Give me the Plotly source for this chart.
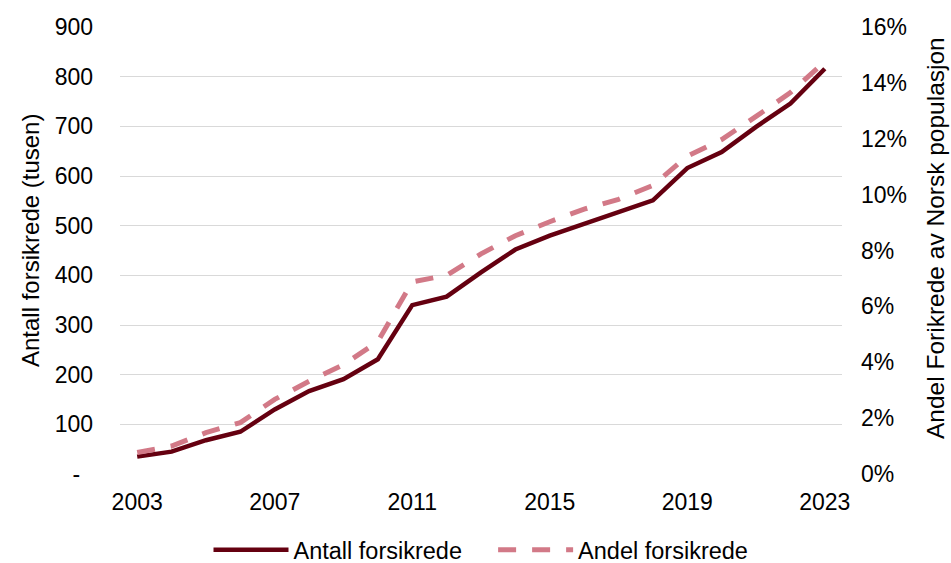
import plotly.graph_objects as go

years = list(range(2003, 2024))
antall = [35, 45, 68, 85, 130, 167, 191, 231, 340, 357, 406, 452, 480, 503, 527, 551, 616, 648, 699, 746, 816]
andel = [0.77, 1.0, 1.48, 1.84, 2.67, 3.32, 3.91, 4.74, 6.88, 7.11, 7.88, 8.53, 9.03, 9.48, 9.83, 10.33, 11.38, 11.97, 12.8, 13.65, 14.76]
andel_frac = [v / 100 for v in andel]

left_ticks = [0, 100, 200, 300, 400, 500, 600, 700, 800, 900]
left_text = ["-\u00a0\u00a0", "100", "200", "300", "400", "500", "600", "700", "800", "900"]
x_ticks = [2003, 2007, 2011, 2015, 2019, 2023]

left_title = "Antall forsikrede (tusen)"
right_title = "Andel Forikrede av Norsk populasjon"
series_names = ["Antall forsikrede", "Andel forsikrede"]

dark = "#650010"
pink = "#d27987"
font = "Liberation Sans, Arial, sans-serif"

W, H = 951, 563
ML, MR, MT, MB = 120, 109, 27, 89

fig = go.Figure()
fig.add_trace(go.Scatter(x=years, y=antall, mode="lines", name=series_names[0] + "\u00a0" * 4,
                         line=dict(color=dark, width=4.5), yaxis="y"))
fig.add_trace(go.Scatter(x=years, y=andel_frac, mode="lines", name=series_names[1],
                         line=dict(color=pink, width=5, dash="18px,16px"), yaxis="y2"))

ph = H - MT - MB
pw = W - ML - MR

def py(ypix):
    return (H - MB - ypix) / ph

def px(xpix):
    return (xpix - ML) / pw

fig.update_layout(
    width=W, height=H,
    margin=dict(l=ML, r=MR, t=MT, b=MB),
    paper_bgcolor="white", plot_bgcolor="white",
    font=dict(family=font, size=23, color="#000000"),
    xaxis=dict(range=[2002.5, 2023.5], tickvals=x_ticks, showgrid=False, zeroline=False,
               showline=False, ticks="", ticklabelstandoff=12, automargin=False),
    yaxis=dict(range=[0, 900], tickvals=left_ticks, ticktext=left_text,
               showgrid=True, gridcolor="#d9d9d9", gridwidth=1.3, zeroline=False,
               showline=False, ticks="", ticklabelstandoff=26, automargin=False),
    yaxis2=dict(range=[0, 0.16], dtick=0.02, tickformat=".0%", overlaying="y", side="right",
                showgrid=False, zeroline=False, showline=False, ticks="", ticklabelstandoff=18,
                automargin=False),
    legend=dict(orientation="h", x=0.5, xanchor="center", xref="paper",
                y=1 - 550 / H, yanchor="middle", yref="container",
                font=dict(size=23.5), itemwidth=75, tracegroupgap=0),
    showlegend=True,
    annotations=[
        dict(text=left_title, textangle=-90, xref="paper", yref="paper",
             x=px(30), y=py(241), xanchor="center", yanchor="middle",
             showarrow=False, font=dict(size=24)),
        dict(text=right_title, textangle=-90, xref="paper", yref="paper",
             x=px(935), y=py(238), xanchor="center", yanchor="middle",
             showarrow=False, font=dict(size=24.5)),
    ],
)

fig.write_html("out.html", config={"displayModeBar": False},
               post_script="document.body.style.margin='0px';document.body.style.overflow='hidden';")
